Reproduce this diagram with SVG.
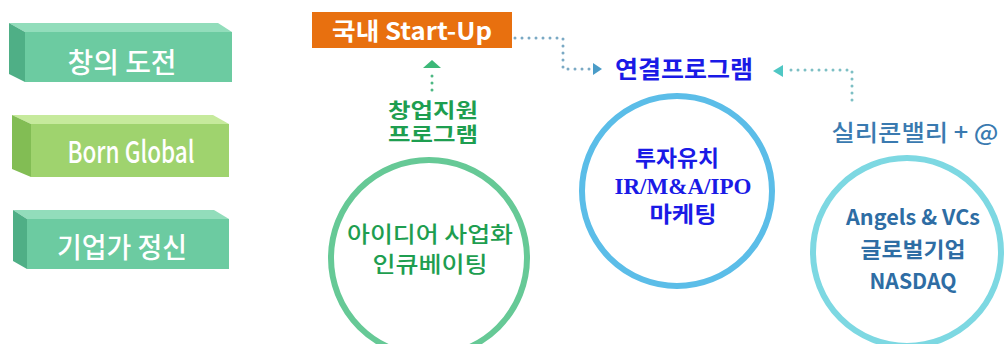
<svg xmlns="http://www.w3.org/2000/svg" width="1006" height="344" viewBox="0 0 1006 344">
<style>
.kr{font-family:"Noto Sans CJK KR","Noto Sans",sans-serif;}
.boxt{fill:#ffffff;font-weight:500;text-anchor:middle;}
.ring{fill:none;stroke-width:6;}
.dot{fill:none;stroke-width:3;stroke-linecap:round;stroke-dasharray:0 7;}
</style>
<rect width="1006" height="344" fill="#ffffff"/>

<g id="box-changui">
<polygon points="9,23 218,23 232,32 25,32" fill="#92DDBB"/>
<polygon points="9,23 25,32 25,82 9,74" fill="#4FAF86"/>
<rect x="25" y="32" width="207" height="50" fill="#6CCBA1"/>
<text class="kr boxt" x="122" y="73" font-size="28" textLength="109" lengthAdjust="spacingAndGlyphs">창의 도전</text>
</g>

<g id="box-bornglobal">
<polygon points="12,115 213,115 229,124 31,124" fill="#C6EA9C"/>
<polygon points="12,115 31,124 31,177 12,169" fill="#82BD54"/>
<rect x="31" y="124" width="198" height="53" fill="#9FD36E"/>
<text class="kr boxt" x="131" y="163" font-size="30" font-weight="700" textLength="127" lengthAdjust="spacingAndGlyphs">Born Global</text>
</g>

<g id="box-gieopga">
<polygon points="13,210 214,210 229,219 27,219" fill="#92DDBB"/>
<polygon points="13,210 27,219 27,269 13,261" fill="#4FAF86"/>
<rect x="27" y="219" width="202" height="50" fill="#6CCBA1"/>
<text class="kr boxt" x="122" y="258" font-size="28" textLength="130" lengthAdjust="spacingAndGlyphs">기업가 정신</text>
</g>

<g id="startup">
<rect x="312" y="12" width="200" height="36" fill="#E8700F"/>
<text class="kr" x="412" y="40" font-size="24" font-weight="700" fill="#ffffff" text-anchor="middle" textLength="160" lengthAdjust="spacingAndGlyphs">국내 Start-Up</text>
</g>

<g id="changup-label">
<text class="kr" x="433" y="118" font-size="20" font-weight="700" fill="#1E9E50" text-anchor="middle" textLength="90" lengthAdjust="spacingAndGlyphs">창업지원</text>
<text class="kr" x="433" y="142" font-size="20" font-weight="700" fill="#1E9E50" text-anchor="middle" textLength="90" lengthAdjust="spacingAndGlyphs">프로그램</text>
</g>

<g id="yeongyeol">
<text class="kr" x="684" y="78" font-size="24" font-weight="700" fill="#1A1AE6" text-anchor="middle" textLength="138" lengthAdjust="spacingAndGlyphs">연결프로그램</text>
</g>

<g id="silicon-label">
<text class="kr" x="915" y="141" font-size="23" font-weight="500" fill="#3A7AB0" text-anchor="middle" textLength="167" lengthAdjust="spacingAndGlyphs">실리콘밸리 + @</text>
</g>

<g id="circle-idea">
<circle class="ring" cx="429" cy="258" r="98" stroke="#66C996"/>
<text class="kr" x="430" y="242" font-size="22" font-weight="500" fill="#1E9E50" text-anchor="middle" textLength="166" lengthAdjust="spacingAndGlyphs">아이디어 사업화</text>
<text class="kr" x="430" y="272" font-size="22" font-weight="500" fill="#1E9E50" text-anchor="middle" textLength="115" lengthAdjust="spacingAndGlyphs">인큐베이팅</text>
</g>

<g id="circle-invest">
<circle class="ring" cx="677" cy="191" r="95" stroke="#5BBDE8"/>
<text class="kr" x="677" y="166" font-size="22" font-weight="700" fill="#1A1AE6" text-anchor="middle" textLength="84" lengthAdjust="spacingAndGlyphs">투자유치</text>
<text x="683" y="194" font-family="'Liberation Serif',serif" font-size="24" font-weight="700" fill="#1A1AE6" text-anchor="middle" textLength="137" lengthAdjust="spacingAndGlyphs">IR/M&amp;A/IPO</text>
<text class="kr" x="683" y="222" font-size="22" font-weight="700" fill="#1A1AE6" text-anchor="middle" textLength="67" lengthAdjust="spacingAndGlyphs">마케팅</text>
</g>

<g id="circle-global">
<circle class="ring" cx="907" cy="252" r="94" stroke="#7DD8E2"/>
<text class="kr" x="913" y="225" font-size="21" font-weight="700" fill="#2E6DA4" text-anchor="middle" textLength="134" lengthAdjust="spacingAndGlyphs">Angels &amp; VCs</text>
<text class="kr" x="913" y="257" font-size="21" font-weight="700" fill="#2E6DA4" text-anchor="middle" textLength="105" lengthAdjust="spacingAndGlyphs">글로벌기업</text>
<text class="kr" x="913" y="289" font-size="21" font-weight="700" fill="#2E6DA4" text-anchor="middle" textLength="87" lengthAdjust="spacingAndGlyphs">NASDAQ</text>
</g>

<g id="connectors">
<path class="dot" d="M515,38 H563 V69 H590" stroke="#7AA9C4"/>
<polygon points="593,63 602,69 593,75" fill="#4A9CC8"/>
<path class="dot" d="M852,100 V70 H786" stroke="#7DBFC4"/>
<polygon points="783,65 773,71 783,77" fill="#4FC7C4"/>
<path class="dot" d="M432,90 V72" stroke="#4DB883"/>
<polygon points="423,68 432,60 441,68" fill="#3CB878"/>
</g>
</svg>
